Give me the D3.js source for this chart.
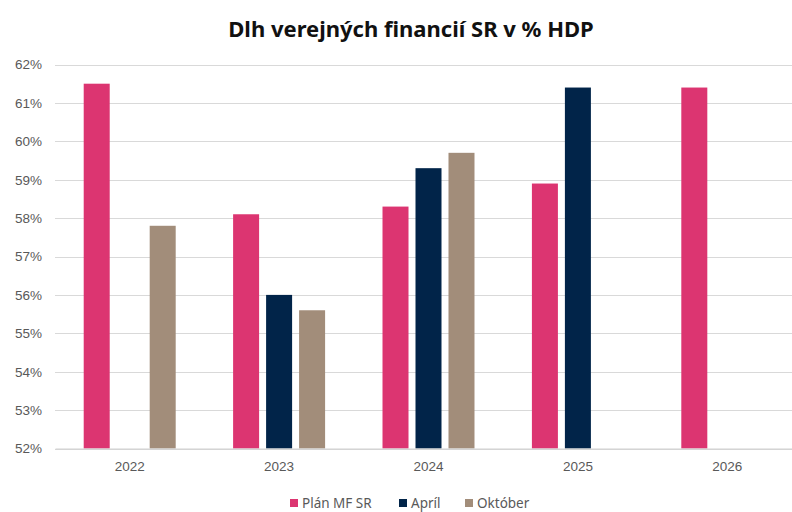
<!DOCTYPE html>
<html>
<head>
<meta charset="utf-8">
<script src="https://cdn.jsdelivr.net/npm/d3@7"></script>
<style>
    body { margin: 0; background: #fff; }
    svg { display: block; font-family: "Noto Sans", "Open Sans", sans-serif; }
    .y_axis text, .x_axis text { fill: #595959; font-size: 13.5px; }
    .legend text { fill: #595959; font-size: 13.5px; }
</style>
</head>
<body>
<div id="chart"></div>
<script>
var years = ['2022', '2023', '2024', '2025', '2026'];
var series = ['Plán MF SR', 'Apríl', 'Október'];
var plan = [61.5, 58.1, 58.3, 58.9, 61.4];
var april = [null, 56.0, 59.3, 61.4, null];
var oktober = [57.8, 55.6, 59.7, null, null];
var y_ticks = [52, 53, 54, 55, 56, 57, 58, 59, 60, 61, 62];
var colors = ['#dc3571', '#012449', '#a28d7a'];

var values = [plan, april, oktober];
var width = 792, height = 512;
var svg = d3.select('#chart').append('svg').attr('width', width).attr('height', height);

svg.append('text').text('Dlh verejných financií SR v % HDP')
    .attr('x', 411).attr('y', 37).attr('text-anchor', 'middle')
    .attr('font-size', '22px').attr('font-weight', 'bold').attr('fill', '#111');

var y_scale = d3.scaleLinear().domain([52, 62]).range([448.5, 64.5]);
var x_scale = d3.scaleBand().domain(years).range([55, 802]);
var x_sub = d3.scaleBand().domain(series).range([0, x_scale.bandwidth()])
    .paddingInner(0.212).paddingOuter(0.87);

// gridlines
svg.append('g').selectAll('line').data(y_ticks).join('line')
    .attr('x1', 55).attr('x2', width)
    .attr('y1', d => Math.round(y_scale(d)) + 0.5).attr('y2', d => Math.round(y_scale(d)) + 0.5)
    .attr('stroke', '#d9d9d9').attr('stroke-width', 1);

var y_axis = svg.append('g').attr('class', 'y_axis').attr('transform', 'translate(45,0)')
    .call(d3.axisLeft(y_scale).tickValues(y_ticks).tickFormat(d => d + '%').tickSize(0).tickPadding(3));
y_axis.select('.domain').remove();

var main_group = svg.append('g');
for (var i = 0; i < series.length; i++) {
    for (var k = 0; k < years.length; k++) {
        var value = values[i][k];
        if (value == null) continue;
        main_group.append('rect')
            .attr('x', x_scale(years[k]) + x_sub(series[i]))
            .attr('y', y_scale(value))
            .attr('width', x_sub.bandwidth())
            .attr('height', y_scale(52) - y_scale(value))
            .attr('fill', colors[i]);
    }
}

var x_axis = svg.append('g').attr('class', 'x_axis').attr('transform', 'translate(0,' + y_scale(52) + ')')
    .call(d3.axisBottom(x_scale).tickSize(0).tickPadding(13));
x_axis.select('.domain').attr('stroke', '#d0d0d0');

// legend
var legend_x = [290, 399, 465];
var legend = svg.append('g').attr('class', 'legend');
series.forEach(function (s, i) {
    legend.append('rect').attr('x', legend_x[i]).attr('y', 499).attr('width', 8).attr('height', 8).attr('fill', colors[i]);
    legend.append('text').text(s).attr('x', legend_x[i] + 12).attr('y', 507.5);
});
</script>
</body>
</html>
